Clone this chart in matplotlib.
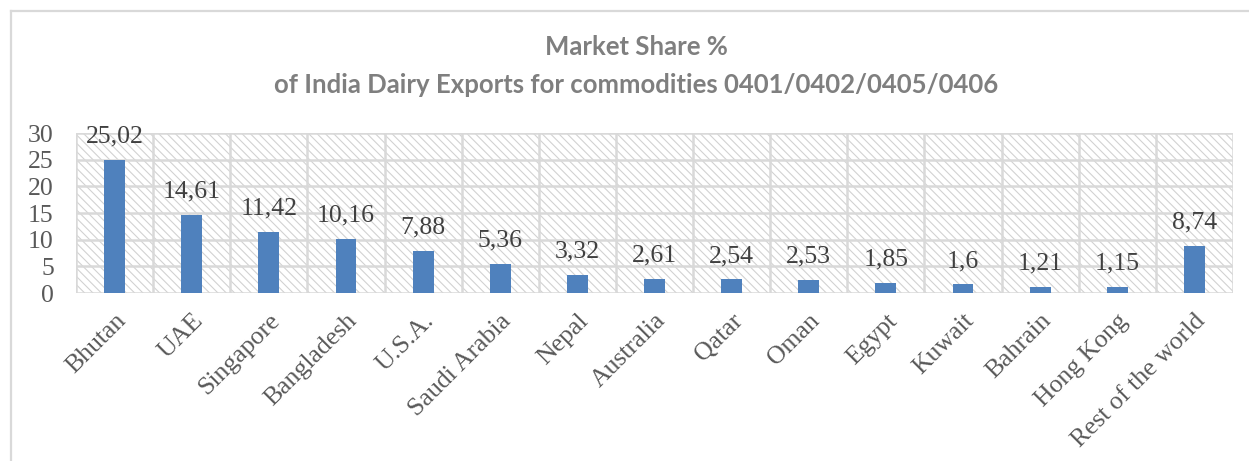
import numpy as np
import matplotlib.pyplot as plt
from matplotlib.lines import Line2D
from matplotlib.patches import Rectangle

countries = ['Bhutan', 'UAE', 'Singapore', 'Bangladesh', 'U.S.A.', 'Saudi Arabia',
             'Nepal', 'Australia', 'Qatar', 'Oman', 'Egypt', 'Kuwait', 'Bahrain',
             'Hong Kong', 'Rest of the world']
share = [25.02, 14.61, 11.42, 10.16, 7.88, 5.36, 3.32, 2.61, 2.54, 2.53,
         1.85, 1.6, 1.21, 1.15, 8.74]
share_labels = ['25,02', '14,61', '11,42', '10,16', '7,88', '5,36', '3,32', '2,61',
                '2,54', '2,53', '1,85', '1,6', '1,21', '1,15', '8,74']

plt.rcParams['hatch.linewidth'] = 0.8

fig = plt.figure(figsize=(12.49, 4.61), dpi=100)
ax = fig.add_axes([76/1249, 1 - 293/461, (1233 - 76)/1249, 160/461])

x = np.arange(len(countries))
ax.bar(x, share, width=0.27, color='#4f81bd', zorder=3)

# data labels
for xi, v, lab in zip(x, share, share_labels):
    ax.annotate(lab, (xi, v), xytext=(0, 9), textcoords='offset points',
                ha='center', va='bottom', fontsize=18.5, color='#404040',
                family='Liberation Serif', zorder=4)

ax.set_xlim(-0.5, len(countries) - 0.5)
ax.set_ylim(0, 30)
ax.set_yticks(range(0, 31, 5))

# hatched background
ax.add_patch(Rectangle((0, 0), 1, 1, transform=ax.transAxes, facecolor='white',
                       edgecolor='#d2d2d2', hatch='\\\\\\\\', lw=0, zorder=0))

# grid: horizontal lines + vertical lines between categories
for yv in range(0, 31, 5):
    ax.axhline(yv, color='#d9d9d9', lw=1.8, zorder=2)
for xb in np.arange(-0.5, len(countries), 1):
    ax.axvline(xb, color='#d9d9d9', lw=1.8, zorder=2)
for s in ax.spines.values():
    s.set_visible(False)

ax.tick_params(axis='both', length=0)
ax.tick_params(axis='y', pad=16)
ax.tick_params(axis='x', pad=12)
ax.set_xticks(x)
ax.set_xticklabels(countries, rotation=45, ha='right', rotation_mode='anchor')
for t in ax.get_xticklabels() + ax.get_yticklabels():
    t.set_fontfamily('Liberation Serif')
    t.set_fontsize(18.5)
    t.set_color('#595959')

fig.text(636/1249, 1 - 47/461, 'Market Share %', ha='center', va='center',
         fontsize=18.5, fontweight='bold', color='#7f7f7f', family='Lato')
fig.text(636/1249, 1 - 85/461, 'of India Dairy Exports for commodities 0401/0402/0405/0406',
         ha='center', va='center', fontsize=18.5, fontweight='bold', color='#7f7f7f',
         family='Lato')

# outer chart frame (left and top edges visible)
fig.add_artist(Line2D([11/1249, 11/1249], [0, 1 - 11/461], transform=fig.transFigure,
                      color='#d9d9d9', lw=1.6))
fig.add_artist(Line2D([11/1249, 1], [1 - 11/461, 1 - 11/461], transform=fig.transFigure,
                      color='#d9d9d9', lw=1.6))

fig.savefig('out.png', dpi=100)
